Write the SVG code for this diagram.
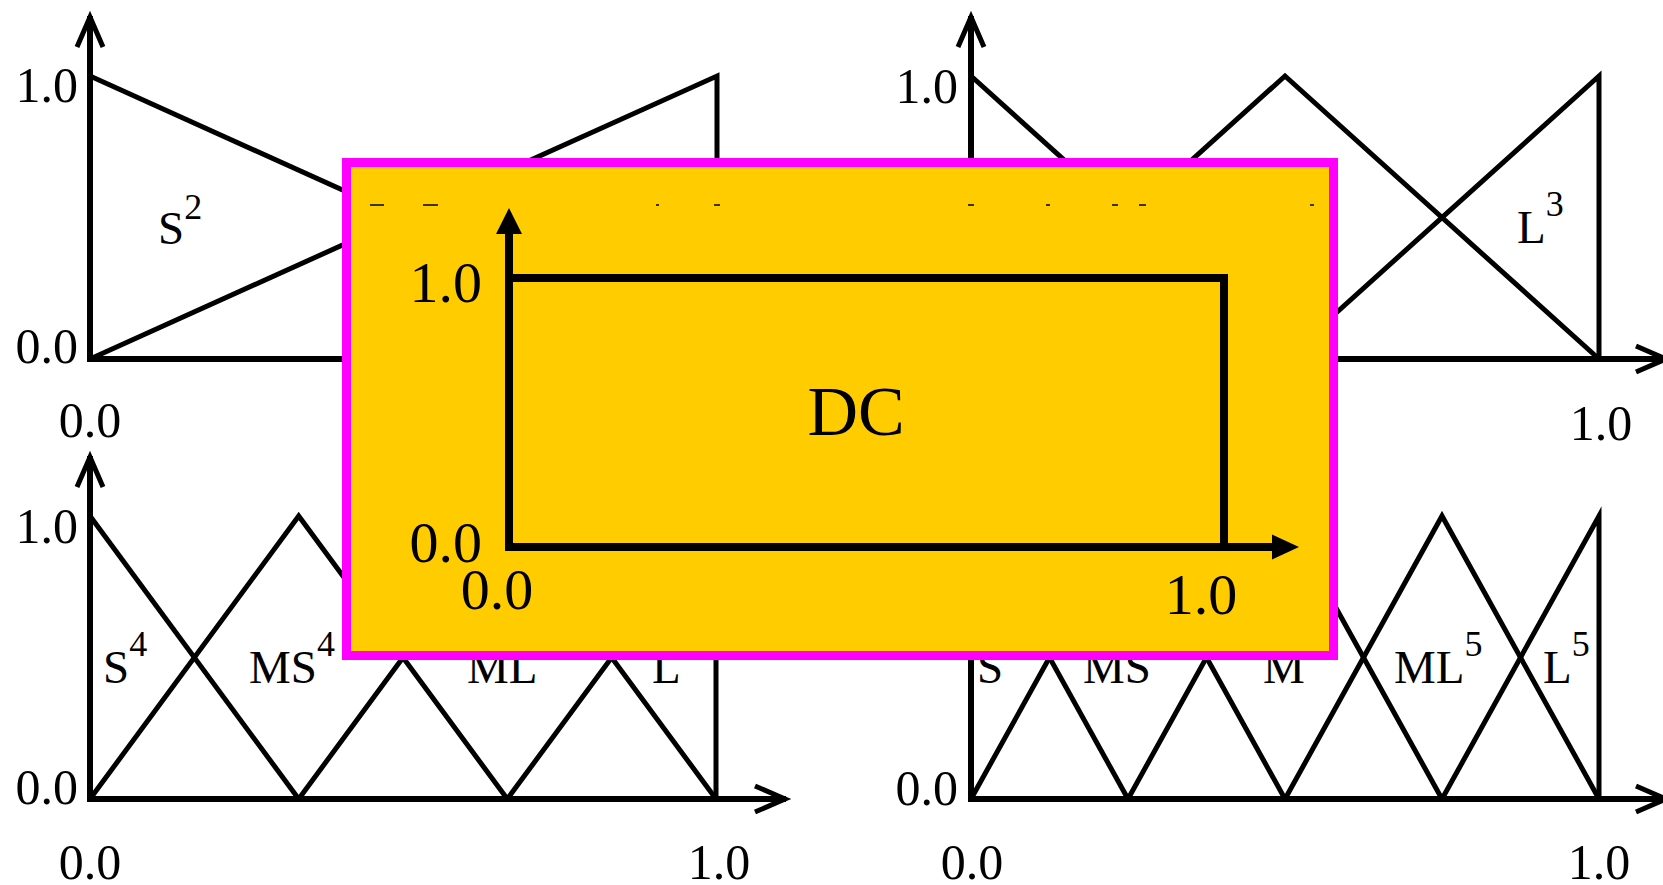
<svg xmlns="http://www.w3.org/2000/svg" width="1663" height="885" viewBox="0 0 1663 885">
<style>
.ax{stroke:#000;stroke-width:6;fill:none}
.ah{stroke:#000;stroke-width:5;fill:none;stroke-linejoin:miter;stroke-miterlimit:6}
.mf{stroke:#000;stroke-width:5;fill:none;stroke-linejoin:miter;stroke-miterlimit:10}
.t{font-family:"Liberation Serif","Times New Roman",serif;fill:#000}
.n{font-size:50px}
.s{font-size:47px}
.dc{stroke:#000;stroke-width:8;fill:none;stroke-linejoin:miter}
.art{stroke:#000;stroke-width:1.5}
</style>
<rect width="1663" height="885" fill="#fff"/>

<g id="panel-2sets">
  <line class="ax" x1="90" y1="362" x2="90" y2="16"/>
  <polyline class="ah" points="77,47 90,17 103,47"/>
  <line class="ax" x1="87" y1="359" x2="786" y2="359"/>
  <polyline class="ah" points="755,346 785,359 755,372"/>
  <line class="mf" x1="90" y1="76" x2="717" y2="359"/>
  <polyline class="mf" points="90,359 717,76 717,359"/>
  <text class="t n" x="78" y="102" text-anchor="end">1.0</text>
  <text class="t n" x="78" y="363" text-anchor="end">0.0</text>
  <text class="t n" x="90" y="437" text-anchor="middle">0.0</text>
  <text class="t s" x="158" y="244">S<tspan font-size="36" dy="-25">2</tspan></text>
</g>

<g id="panel-3sets">
  <line class="ax" x1="971" y1="362" x2="971" y2="16"/>
  <polyline class="ah" points="958,47 971,17 984,47"/>
  <line class="ax" x1="968" y1="359" x2="1666" y2="359"/>
  <polyline class="ah" points="1636,346 1666,359 1636,372"/>
  <line class="mf" x1="971" y1="76" x2="1285" y2="359"/>
  <polyline class="mf" points="971,359 1285,76 1599,359"/>
  <polyline class="mf" points="1285,359 1599,76 1599,359"/>
  <text class="t n" x="958" y="103" text-anchor="end">1.0</text>
  <text class="t n" x="1601" y="440" text-anchor="middle">1.0</text>
  <text class="t s" x="1517" y="243">L<tspan font-size="36" dy="-27">3</tspan></text>
</g>

<g id="panel-4sets">
  <line class="ax" x1="90" y1="802" x2="90" y2="456"/>
  <polyline class="ah" points="77,487 90,457 103,487"/>
  <line class="ax" x1="87" y1="799" x2="786" y2="799"/>
  <polyline class="ah" points="755,786 785,799 755,812"/>
  <line class="mf" x1="90" y1="516" x2="298.7" y2="799"/>
  <polyline class="mf" points="90,799 298.7,516 507.3,799"/>
  <polyline class="mf" points="298.7,799 507.3,516 716,799"/>
  <polyline class="mf" points="507.3,799 716,516 716,799"/>
  <text class="t n" x="78" y="543" text-anchor="end">1.0</text>
  <text class="t n" x="78" y="804" text-anchor="end">0.0</text>
  <text class="t n" x="90" y="879" text-anchor="middle">0.0</text>
  <text class="t n" x="719" y="879" text-anchor="middle">1.0</text>
  <text class="t s" x="103" y="683">S<tspan font-size="36" dy="-27">4</tspan></text>
  <text class="t s" x="249" y="683">MS<tspan font-size="36" dy="-27">4</tspan></text>
  <text class="t s" x="467" y="683">ML</text>
  <text class="t s" x="652" y="683">L</text>
</g>

<g id="panel-5sets">
  <line class="ax" x1="971" y1="802" x2="971" y2="456"/>
  <polyline class="ah" points="958,487 971,457 984,487"/>
  <line class="ax" x1="968" y1="799" x2="1666" y2="799"/>
  <polyline class="ah" points="1636,786 1666,799 1636,812"/>
  <line class="mf" x1="971" y1="516" x2="1128" y2="799"/>
  <polyline class="mf" points="971,799 1128,516 1285,799"/>
  <polyline class="mf" points="1128,799 1285,516 1442,799"/>
  <polyline class="mf" points="1285,799 1442,516 1599,799"/>
  <polyline class="mf" points="1442,799 1599,516 1599,799"/>
  <text class="t n" x="958" y="805" text-anchor="end">0.0</text>
  <text class="t n" x="972" y="879" text-anchor="middle">0.0</text>
  <text class="t n" x="1599" y="879" text-anchor="middle">1.0</text>
  <text class="t s" x="977" y="683">S</text>
  <text class="t s" x="1083" y="683">MS</text>
  <text class="t s" x="1263" y="683">M</text>
  <text class="t s" x="1394" y="683">ML<tspan font-size="36" dy="-27">5</tspan></text>
  <text class="t s" x="1543" y="683">L<tspan font-size="36" dy="-27">5</tspan></text>
</g>

<g id="dont-care-box">
  <rect x="346.5" y="162.5" width="987" height="493" fill="#FFCC00" stroke="#FF00FF" stroke-width="9"/>
  <g id="artifacts">
    <line class="art" x1="370" y1="205" x2="384" y2="205"/>
    <line class="art" x1="423" y1="205" x2="438" y2="205"/>
    <line class="art" x1="656" y1="205" x2="659" y2="205"/>
    <line class="art" x1="714" y1="205" x2="720" y2="205"/>
    <line class="art" x1="968" y1="205" x2="974" y2="205"/>
    <line class="art" x1="1046" y1="205" x2="1050" y2="205"/>
    <line class="art" x1="1112" y1="205" x2="1118" y2="205"/>
    <line class="art" x1="1139" y1="205" x2="1146" y2="205"/>
    <line class="art" x1="1310" y1="205" x2="1314" y2="205"/>
  </g>
  <path class="dc" d="M509,232 V547 H1273"/>
  <polygon points="509,208 522,234 496,234" fill="#000"/>
  <polygon points="1299,547 1272,534.5 1272,559.5" fill="#000"/>
  <path class="dc" d="M509,278 H1224 V547"/>
  <text class="t" font-size="58" x="482" y="302" text-anchor="end">1.0</text>
  <text class="t" font-size="58" x="482" y="562" text-anchor="end">0.0</text>
  <text class="t" font-size="58" x="497" y="609" text-anchor="middle">0.0</text>
  <text class="t" font-size="58" x="1201" y="614" text-anchor="middle">1.0</text>
  <text class="t" font-size="70" x="856" y="435" text-anchor="middle">DC</text>
</g>
</svg>
